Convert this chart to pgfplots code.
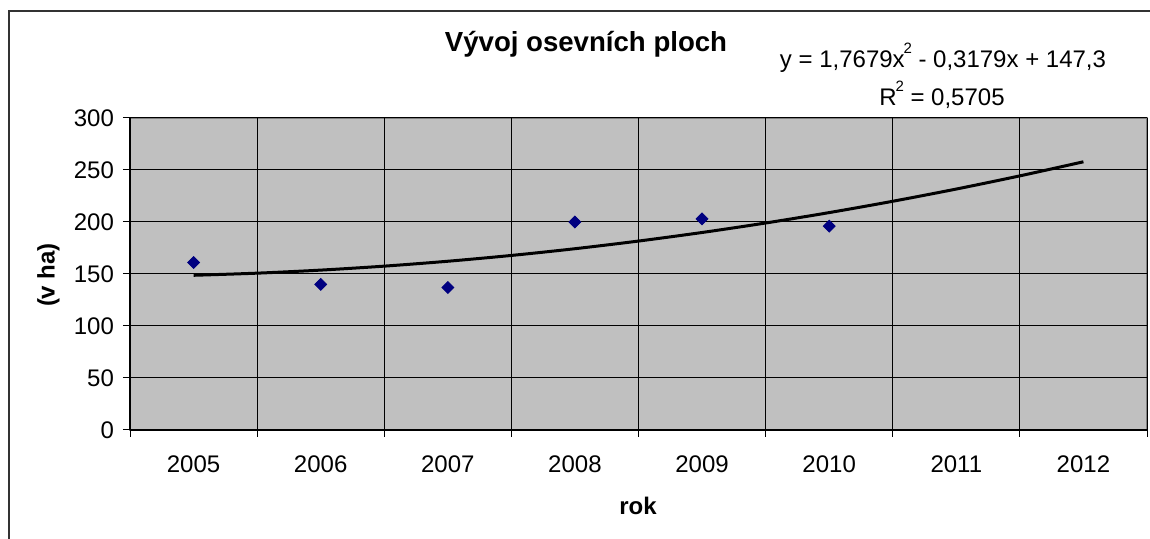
\documentclass[border=0pt]{standalone}
\usepackage{pgfplots}
\pgfplotsset{compat=1.18}
\usepackage{fontspec}
\setmainfont{Liberation Sans}
\definecolor{plotgray}{HTML}{C0C0C0}
\definecolor{bordergray}{HTML}{808080}
\definecolor{navyc}{HTML}{000080}
\newcommand{\sq}{\kern-0.6pt\raisebox{0.62em}{\fontsize{7.5}{8}\selectfont 2}}
\begin{document}
\begin{tikzpicture}
\useasboundingbox (0,0) rectangle (575pt,269.5pt);
\fill[white] (0,0) rectangle (575pt,269.5pt);
\draw[line width=1pt, color=black!80] (4.5pt,-10pt) -- (4.5pt,264pt) -- (600pt,264pt);
\begin{axis}[
  at={(65pt,54.5pt)}, anchor=south west,
  scale only axis, width=508.5pt, height=156pt,
  xmin=0.5, xmax=8.5, ymin=0, ymax=300,
  axis x line*=bottom, axis y line*=left,
  axis line style={black, line width=0.6pt},
  axis background/.style={fill=plotgray, draw=bordergray, line width=0.6pt},
  xtick={0.5,1.5,...,8.5}, xticklabels={},
  extra x ticks={1,2,3,4,5,6,7,8},
  extra x tick labels={2005,2006,2007,2008,2009,2010,2011,2012},
  extra x tick style={major tick length=0pt, grid=none},
  ytick={0,50,...,300},
  tick align=outside, major tick length=3.5pt,
  tick style={black, line width=0.5pt},
  xmajorgrids, ymajorgrids,
  grid style={black, line width=0.5pt},
  /pgf/number format/assume math mode=true,
  tick label style={font=\fontsize{12}{14}\selectfont},
  xticklabel style={yshift=-9.5pt},
  yticklabel style={xshift=-1pt},
  clip=false,
]
\addplot[black, line width=1.5pt, smooth] coordinates {
(1,148.75) (1.5,150.80) (2,153.74) (2.5,157.55) (3,162.26) (3.5,167.84)
(4,174.31) (4.5,181.67) (5,189.91) (5.5,199.03) (6,209.04) (6.5,219.93)
(7,231.70) (7.5,244.36) (8,257.90)};
\addplot[only marks, mark=square*, mark size=2.1pt, color=navyc, mark options={rotate=45}] coordinates {
(1,161) (2,140) (3,137) (4,200) (5,203) (6,196)};
\end{axis}
\node[anchor=base, font=\bfseries\fontsize{13.8}{16}\selectfont] at (293pt,243.5pt) {Vývoj osevních ploch};
\node[anchor=base, font=\fontsize{12}{14}\selectfont] at (471.5pt,235.5pt) {y = 1,7679x\sq{} - 0,3179x + 147,3};
\node[anchor=base, font=\fontsize{12}{14}\selectfont] at (471pt,216.5pt) {R\sq{} = 0,5705};
\node[anchor=base, font=\bfseries\fontsize{12}{14}\selectfont] at (319pt,12pt) {rok};
\node[rotate=90, font=\bfseries\fontsize{12}{14}\selectfont] at (24.25pt,132pt) {(v ha)};
\end{tikzpicture}
\end{document}
